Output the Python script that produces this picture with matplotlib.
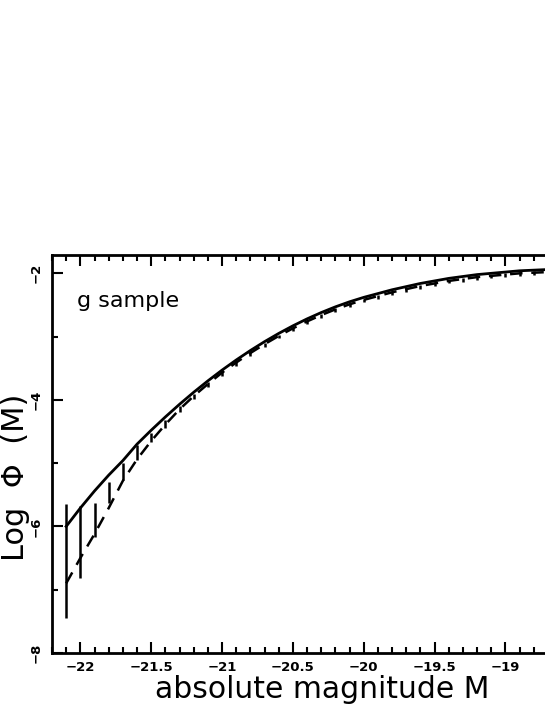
import matplotlib
matplotlib.use("Agg")
import matplotlib.pyplot as plt
from matplotlib.ticker import MultipleLocator, FuncFormatter

# absolute magnitude grid
mag = [-22.1, -22.0, -21.9, -21.8, -21.7, -21.6, -21.5, -21.4, -21.3, -21.2,
       -21.1, -21.0, -20.9, -20.8, -20.7, -20.6, -20.5, -20.4, -20.3, -20.2,
       -20.1, -20.0, -19.9, -19.8, -19.7, -19.6, -19.5, -19.4, -19.3, -19.2,
       -19.1, -19.0, -18.9, -18.8, -18.7]
# solid curve: log phi(M)
logphi_solid = [-6.00, -5.71, -5.44, -5.19, -4.96, -4.70, -4.48, -4.27, -4.07, -3.88,
                -3.70, -3.53, -3.37, -3.22, -3.08, -2.95, -2.83, -2.72, -2.62, -2.53,
                -2.45, -2.38, -2.32, -2.26, -2.21, -2.16, -2.12, -2.08, -2.05, -2.02,
                -2.00, -1.98, -1.96, -1.95, -1.94]
# dashed curve
logphi_dashed = [-6.90, -6.50, -6.12, -5.71, -5.28, -4.94, -4.65, -4.39, -4.15, -3.94,
                 -3.75, -3.57, -3.41, -3.26, -3.12, -2.99, -2.87, -2.76, -2.66, -2.57,
                 -2.49, -2.42, -2.36, -2.30, -2.25, -2.20, -2.16, -2.12, -2.09, -2.06,
                 -2.04, -2.02, -2.00, -1.99, -1.98]
# error bars
err_mag = [-22.1, -22.0, -21.9, -21.8, -21.7, -21.6, -21.5, -21.4, -21.3, -21.2,
           -21.1, -21.0, -20.9, -20.8, -20.7, -20.6, -20.5, -20.4, -20.3, -20.2,
           -20.1, -20.0, -19.9, -19.8, -19.7, -19.6, -19.5, -19.4, -19.3, -19.2,
           -19.1, -19.0, -18.9, -18.8]
err_high = [-5.65, -5.68, -5.63, -5.30, -5.00, -4.72, -4.53, -4.32, -4.09, -3.90,
            -3.72, -3.55, -3.39, -3.24, -3.10, -2.97, -2.85, -2.74, -2.64, -2.55,
            -2.47, -2.40, -2.34, -2.28, -2.23, -2.18, -2.14, -2.10, -2.07, -2.04,
            -2.02, -2.00, -1.98, -1.97]
err_low = [-7.45, -6.82, -6.17, -5.63, -5.27, -4.95, -4.67, -4.45, -4.19, -3.99,
           -3.80, -3.62, -3.46, -3.30, -3.16, -3.03, -2.91, -2.80, -2.70, -2.61,
           -2.53, -2.46, -2.40, -2.34, -2.29, -2.24, -2.20, -2.16, -2.13, -2.10,
           -2.08, -2.06, -2.04, -2.03]

fig = plt.figure(figsize=(5.45, 7.05), dpi=100)
ax = fig.add_axes([0.0954, 0.0738, 0.936, 0.564])

ax.plot(mag, logphi_solid, color="black", lw=2.0)
ax.plot(mag, logphi_dashed, color="black", lw=1.8, linestyle=(0, (5, 3.5)))
ax.vlines(err_mag, err_low, err_high, color="black", lw=1.8)

ax.set_xlim(-22.2, -18.6)
ax.set_ylim(-8, -1.716)

fmt = FuncFormatter(lambda v, p: ("%g" % v).replace("-", "\u2212"))
ax.xaxis.set_major_locator(MultipleLocator(0.5))
ax.xaxis.set_minor_locator(MultipleLocator(0.1))
ax.yaxis.set_major_locator(MultipleLocator(2))
ax.yaxis.set_minor_locator(MultipleLocator(1))
ax.xaxis.set_major_formatter(fmt)
ax.yaxis.set_major_formatter(fmt)
ax.tick_params(which="both", direction="in", top=True, right=True, width=1.5)
ax.tick_params(which="major", length=8)
ax.tick_params(which="minor", length=4)
ax.tick_params(axis="x", labelsize=9.5, pad=6)
ax.tick_params(axis="y", labelsize=9.5, pad=7)
for lab in ax.get_xticklabels():
    lab.set_fontweight("bold")
for lab in ax.get_yticklabels():
    lab.set_fontweight("bold")
    lab.set_rotation(90)
    lab.set_va("center")
for s in ax.spines.values():
    s.set_linewidth(2.0)

ax.set_xlabel("absolute magnitude M", fontsize=21.5)
ax.xaxis.set_label_coords(0.529, -0.056, transform=ax.transAxes)
ax.xaxis.label.set_va("top")
ax.set_ylabel("Log  Φ  (M)", fontsize=22)
ax.yaxis.set_label_coords(-0.071, 0.442, transform=ax.transAxes)
ax.yaxis.label.set_va("center")
ax.text(-22.02, -2.43, "g sample", fontsize=16, va="center", ha="left")

fig.savefig("out.png", dpi=100)
